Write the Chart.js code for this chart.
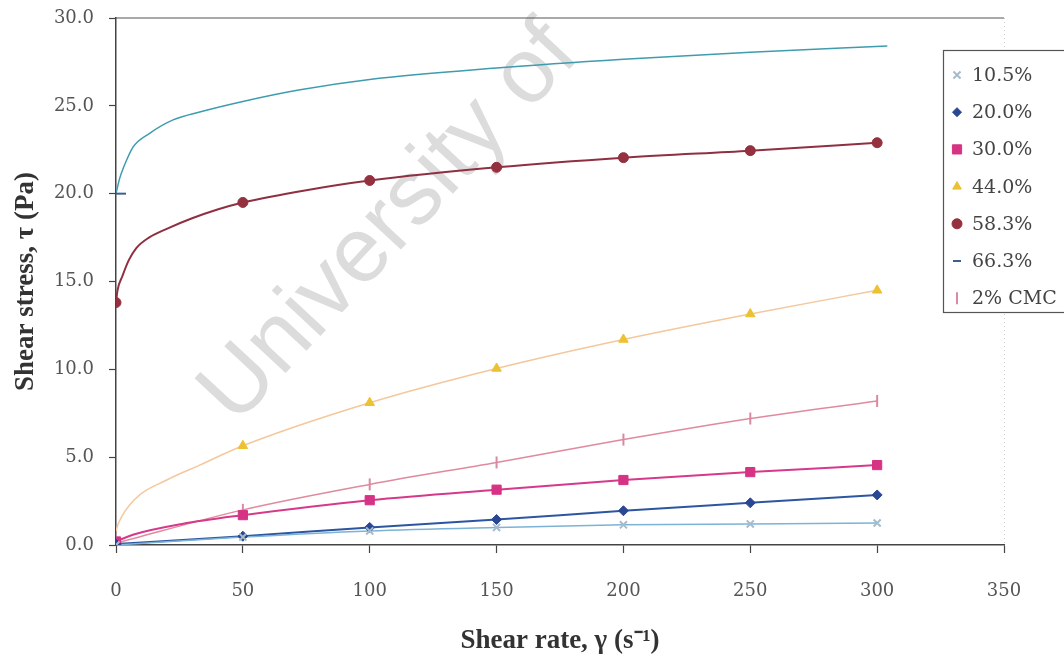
<!DOCTYPE html>
<html lang="en">
<head>
<meta charset="UTF-8">
<title>Shear stress vs shear rate</title>
<script src="https://cdn.jsdelivr.net/npm/chart.js@4.4.1/dist/chart.umd.min.js"></script>
<style>
  body { margin: 0; background: #fff; }
  #wrap { width: 1064px; height: 657px; }
</style>
</head>
<body>
<div id="wrap"><canvas id="flow" width="1064" height="657"></canvas></div>
<script>
// measured points: shear rate (1/s) and shear stress (Pa)
const shearRate = [0, 50, 100, 150, 200, 250, 300];
const seriesLabels = ['10.5%', '20.0%', '30.0%', '44.0%', '58.3%', '66.3%', '2% CMC'];

const stress105 = [0.0, 0.45, 0.8, 1.0, 1.15, 1.2, 1.25];
const stress200 = [0.05, 0.5, 1.0, 1.45, 1.95, 2.4, 2.85];
const stress300 = [0.2, 1.7, 2.55, 3.15, 3.7, 4.15, 4.55];
const rate440 = [50, 100, 150, 200, 250, 300];
const stress440 = [5.65, 8.1, 10.05, 11.7, 13.15, 14.5];
const stress583 = [13.8, 19.5, 20.75, 21.5, 22.05, 22.45, 22.9];
const rate663 = [0];
const stress663 = [20.0];
const stressCMC = [0.1, 2.0, 3.45, 4.7, 6.0, 7.2, 8.2];

// fitted flow curves
const fitRate300 = [0, 7, 26, 50, 100, 150, 200, 250, 300];
const fitStress300 = [0.2, 0.6, 1.2, 1.7, 2.55, 3.15, 3.7, 4.15, 4.55];
const fitRate440 = [0, 1, 7, 20, 33, 50, 100, 150, 200, 250, 300];
const fitStress440 = [0.8, 1.25, 2.55, 3.7, 4.55, 5.65, 8.1, 10.05, 11.7, 13.15, 14.5];
const fitRate583 = [0, 0.6, 2.5, 5, 8, 13, 20, 30, 40, 50, 75, 100, 150, 200, 250, 300];
const fitStress583 = [13.8, 14.5, 15.3, 16.2, 16.9, 17.5, 18.0, 18.6, 19.1, 19.5, 20.2, 20.75, 21.5, 22.05, 22.45, 22.9];
const fitRate663 = [0, 1.5, 3, 6.7, 13.4, 22.5, 33, 50, 72, 100, 150, 200, 250, 304];
const fitStress663 = [20.0, 20.9, 21.5, 22.65, 23.45, 24.2, 24.65, 25.25, 25.9, 26.5, 27.15, 27.65, 28.05, 28.4];

const yTicks = [0, 5, 10, 15, 20, 25, 30];

// styles per series
const lineColors = ['#7cb3d6', '#2d56a0', '#d6398a', '#f4c79c', '#8e3042', '#3e9cae', '#e08a9e'];
const lineWidths = [1.5, 2, 2, 1.5, 2, 1.5, 1.5];
const markerColors = ['#a6bccc', '#2a4793', '#d63384', '#ecc232', '#95303f', '#3d5f8c', '#d88aa0'];
const markerStyles = ['crossRot', 'rectRot', 'rect', 'triangle', 'circle', 'line', 'line'];
const markerRotation = [0, 0, 0, 0, 0, 0, 90];
const markerRadius = [5, 5, 6.5, 5.5, 5, 10, 6];
const legendRadius = [5, 4.5, 6.5, 5, 5, 4, 6];

function pts(xs, ys) {
  return xs.map((x, i) => ({ x: x, y: ys[i] }));
}

const markerData = [
  pts(shearRate, stress105),
  pts(shearRate, stress200),
  pts(shearRate, stress300),
  pts(rate440, stress440),
  pts(shearRate, stress583),
  pts(rate663, stress663),
  pts(shearRate, stressCMC)
];
const curveData = [
  pts(shearRate, stress105),
  pts(shearRate, stress200),
  pts(fitRate300, fitStress300),
  pts(fitRate440, fitStress440),
  pts(fitRate583, fitStress583),
  pts(fitRate663, fitStress663),
  pts(shearRate, stressCMC)
];

const datasets = [];
seriesLabels.forEach((label, i) => {
  datasets.push({
    label: label,
    data: markerData[i],
    showLine: false,
    pointStyle: markerStyles[i],
    rotation: markerRotation[i],
    pointRadius: markerRadius[i],
    pointBackgroundColor: markerColors[i],
    pointBorderColor: markerColors[i],
    pointBorderWidth: markerStyles[i] == 'line' || markerStyles[i] == 'crossRot' ? 2 : 1,
    order: 0
  });
  datasets.push({
    label: label + ' fit',
    data: curveData[i],
    borderColor: lineColors[i],
    borderWidth: lineWidths[i],
    pointRadius: 0,
    cubicInterpolationMode: 'monotone',
    fill: false,
    order: 1
  });
});

// faint diagonal watermark behind the curves
const watermark = {
  id: 'watermark',
  beforeDatasetsDraw(chart) {
    const ctx = chart.ctx;
    ctx.save();
    ctx.translate(390, 224);
    ctx.rotate(-47 * Math.PI / 180);
    ctx.font = '92px "Liberation Sans", Arial, sans-serif';
    ctx.fillStyle = '#dcdcdc';
    ctx.textAlign = 'center';
    ctx.textBaseline = 'middle';
    ctx.fillText('University of', 0, 0);
    ctx.restore();
  }
};

// top border line and faint dotted right edge
const frame = {
  id: 'frame',
  afterDraw(chart) {
    const { ctx, chartArea: a } = chart;
    ctx.save();
    ctx.strokeStyle = '#555';
    ctx.lineWidth = 1.2;
    ctx.beginPath();
    ctx.moveTo(a.left, a.top);
    ctx.lineTo(a.right, a.top);
    ctx.stroke();
    ctx.strokeStyle = '#d0d0d0';
    ctx.lineWidth = 1;
    ctx.setLineDash([1, 3]);
    ctx.beginPath();
    ctx.moveTo(a.right + 0.5, a.top);
    ctx.lineTo(a.right + 0.5, a.bottom);
    ctx.stroke();
    ctx.restore();
  }
};

// boxed legend at the right
const boxLegend = {
  id: 'boxLegend',
  afterDraw(chart) {
    const ctx = chart.ctx;
    const left = 943, top = 50, bottom = 312;
    ctx.save();
    ctx.fillStyle = '#fff';
    ctx.fillRect(left, top, 140, bottom - top);
    ctx.strokeStyle = '#555';
    ctx.lineWidth = 1.2;
    ctx.strokeRect(left + 0.5, top + 0.5, 140, bottom - top);
    ctx.font = '19px "DejaVu Serif", serif';
    ctx.textBaseline = 'middle';
    seriesLabels.forEach((label, i) => {
      const y = 75 + i * 37.2;
      ctx.strokeStyle = markerColors[i];
      ctx.fillStyle = markerColors[i];
      ctx.lineWidth = markerStyles[i] == 'line' || markerStyles[i] == 'crossRot' ? 2 : 1;
      Chart.helpers.drawPoint(ctx, {
        pointStyle: markerStyles[i],
        radius: legendRadius[i],
        rotation: markerRotation[i],
        borderWidth: ctx.lineWidth
      }, 957, y);
      ctx.fillStyle = '#444';
      ctx.fillText(label, 972, y + 1);
    });
    ctx.restore();
  }
};

const tickFont = { family: '"DejaVu Serif", serif', size: 18 };
const titleFont = { family: '"Liberation Serif", "Times New Roman", serif', size: 27, weight: 'bold' };

new Chart(document.getElementById('flow'), {
  type: 'line',
  data: { datasets: datasets },
  plugins: [watermark, frame, boxLegend],
  options: {
    responsive: false,
    animation: false,
    devicePixelRatio: 1,
    layout: { padding: { top: 18, right: 60, left: 0, bottom: 0 } },
    plugins: { legend: { display: false }, tooltip: { enabled: false } },
    scales: {
      x: {
        type: 'linear',
        min: 0,
        max: 350,
        ticks: { stepSize: 50, color: '#555', font: tickFont, padding: 28 },
        grid: { drawOnChartArea: false, tickLength: 8, color: '#444', tickWidth: 1.2 },
        border: { color: '#444', width: 1.5 },
        title: { display: true, text: 'Shear rate, γ (s⁻¹)', color: '#333', font: titleFont, padding: { top: 0, bottom: 0 } },
        afterFit(scale) { scale.height = 112; }
      },
      y: {
        min: 0,
        max: 30,
        afterBuildTicks(scale) { scale.ticks = yTicks.map(v => ({ value: v })); },
        ticks: { color: '#555', font: tickFont, padding: 15, callback: v => v.toFixed(1) },
        grid: { drawOnChartArea: false, tickLength: 7, color: '#444', tickWidth: 1.2 },
        border: { color: '#444', width: 1.5 },
        title: { display: true, text: 'Shear stress, τ (Pa)', color: '#333', font: titleFont, padding: { top: 10, bottom: 0 } },
        afterFit(scale) {
          scale.width = 116;
          scale.paddingTop = 0;
          scale.paddingBottom = 0;
        }
      }
    }
  }
});
</script>
</body>
</html>
